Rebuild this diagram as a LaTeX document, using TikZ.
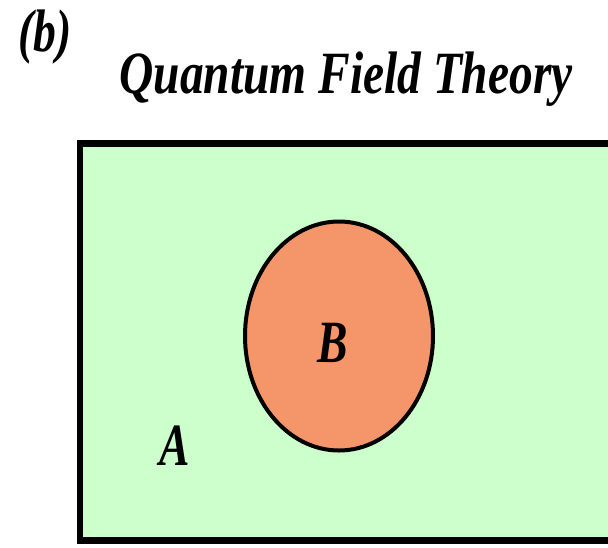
\documentclass[tikz,border=0pt]{standalone}
\usepackage{fontspec}
\setmainfont{Liberation Serif}
\usetikzlibrary{shapes, positioning}
\definecolor{qftgreen}{HTML}{CCFFCC}
\definecolor{subsetorange}{HTML}{F4956A}

\begin{document}
\begin{tikzpicture}[x=1pt, y=-1pt,
    txt/.style={font=\fontsize{60}{60}\selectfont\bfseries\itshape, xscale=0.76, transform shape, inner sep=0pt}]
          \useasboundingbox (0,0) rectangle (608,547);
          \clip (0,0) rectangle (608,547);
          \node[draw=black, fill=qftgreen, line width=6.5pt, minimum width=560pt, minimum height=397pt, inner sep=0pt] (qft) at (360,342) {};
          \node[draw=black, fill=subsetorange, ellipse, line width=4pt, minimum width=188pt, minimum height=229pt, inner sep=0pt] (sub) at (339,336) {};
          \node[txt, xscale=1.04, anchor=base] (title) at (346,93) {Quantum Field Theory};
          \node[txt, anchor=base] (panel) at (45,51) {(b)};
          \node[txt, anchor=base] (labA) at (175,465) {A};
          \node[txt, anchor=base] (labB) at (333,362) {B};
        \end{tikzpicture}
\end{document}
